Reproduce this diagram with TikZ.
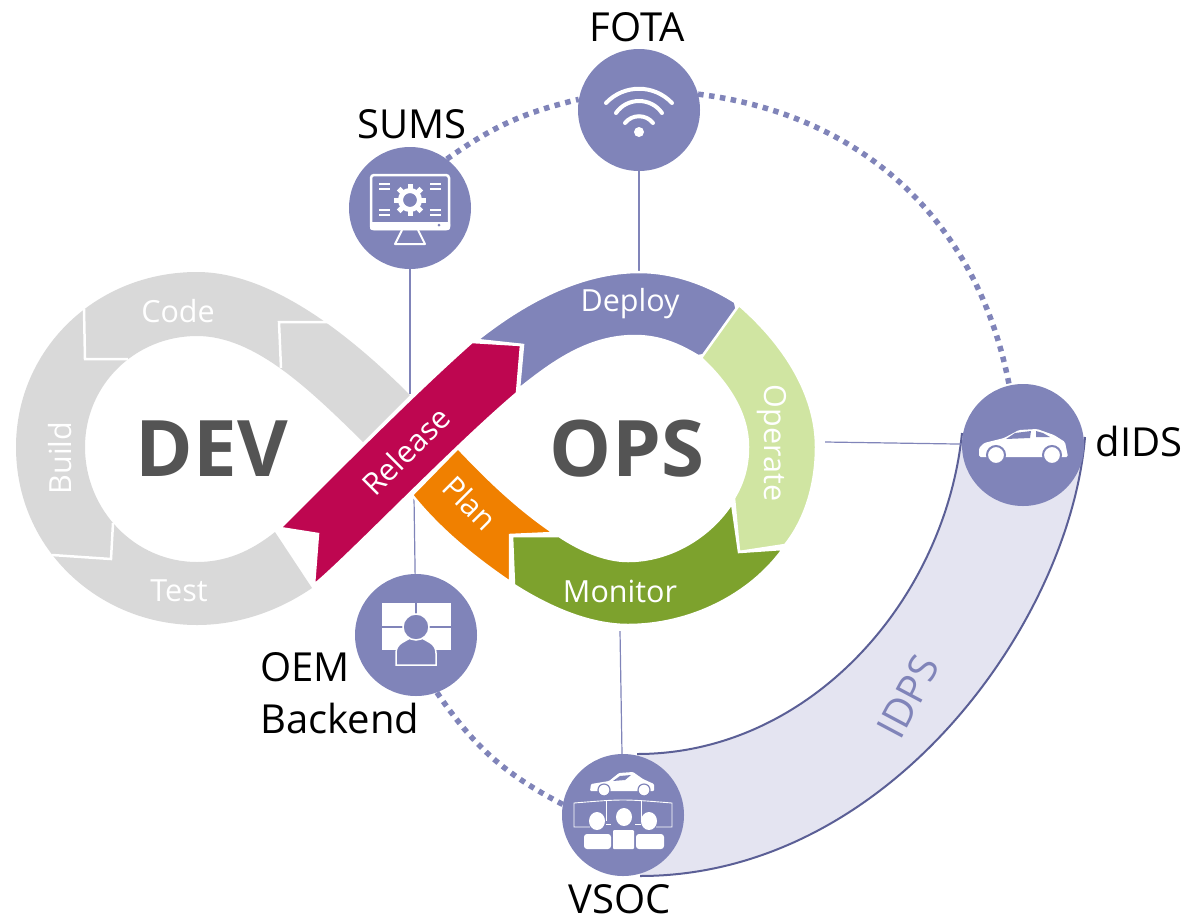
\documentclass[tikz,border=0pt]{standalone}
\usepackage{xcolor}
\usepackage{fontspec}
\setmainfont{Open Sans}
\usepackage{tikz}
\usetikzlibrary{arrows.meta}
\usetikzlibrary{positioning, shapes.geometric, backgrounds}
\definecolor{hub purple}{HTML}{8084B9}
\definecolor{band fill}{HTML}{E4E4F1}
\definecolor{band line}{HTML}{5B5F96}
\definecolor{dev gray}{HTML}{D9D9D9}
\definecolor{word gray}{HTML}{545454}
\definecolor{release red}{HTML}{BE0650}
\definecolor{plan orange}{HTML}{F08000}
\definecolor{operate green}{HTML}{D0E5A2}
\definecolor{monitor green}{HTML}{7DA22D}
\tikzset{
hub/.style = { circle, fill = hub purple, minimum size = 122pt, inner sep = 0pt },
hub label/.style = { black, font = \fontsize{40}{52}\selectfont, inner sep = 0pt },
stage label/.style = { white, font = \fontsize{30.5}{34}\selectfont, inner sep = 0pt },
big word/.style = { word gray, font = \fontsize{78}{80}\selectfont\bfseries, inner sep = 0pt },
stage/.style = { draw = white, line width = 2.5pt, line join = miter },
gap line/.style = { draw = white, line width = 2.5pt },
hub link/.style = { draw = hub purple, line width = 1.2pt },
hub dots/.style = { draw = hub purple, line width = 5.5pt, dash pattern = on 5.5pt off 5.5pt },
band edge/.style = { draw = band line, line width = 2pt },
}
\tikzset{
pics/wifi icon/.style = {
        code = {
        \path[draw = white, line width = 4pt, line cap = round] (-33, -7) .. controls (-15, -26) and (15, -26) .. (33, -7);
        \path[draw = white, line width = 4pt, line cap = round] (-23, 3) .. controls (-12, -13) and (12, -13) .. (23, 3);
        \path[draw = white, line width = 4pt, line cap = round] (-14, 13) .. controls (-7, 4) and (7, 4) .. (14, 13);
        \path[fill = white] (0, 22) circle (5);
        }
    },
pics/screen icon/.style = {
        code = {
        \path[draw = white, line width = 2.5pt, rounded corners = 3pt] (-39, -33) rectangle (39, 21);
        \path[fill = white, rounded corners = 2pt] (-40, 14) rectangle (40, 22);
        \path[fill = hub purple] (29, 17) circle (1.5);
        \path[draw = white, line width = 2pt, line join = round] (-8, 22) -- (-15, 36) -- (15, 36) -- (8, 22);
        \foreach \a in {0, 45, ..., 315} {
            \path[draw = white, line width = 5pt] ([shift = {(0, -8)}] \a:9) -- ([shift = {(0, -8)}] \a:16);
        }
        \path[draw = white, line width = 5pt] (0, -8) circle (9.5);
        \foreach \y in {-24, -19, 2, 7} {
            \path[draw = white, line width = 1.5pt] (-31, \y) -- (-20, \y);
            \path[draw = white, line width = 1.5pt] (20, \y) -- (31, \y);
        }
        }
    },
pics/panel icon/.style = {
        code = {
        \path[fill = white] (-34, -32) rectangle (35, 15);
        \path[draw = hub purple, line width = 1.5pt] (0, -32) -- (0, -20);
        \path[draw = hub purple, line width = 1.5pt] (-34, -8) -- (35, -8);
        \path[fill = hub purple, draw = white, line width = 1.5pt] (-20, 30) -- (-20, 18) .. controls (-20, 8) and (-10, 6) .. (-6, 3) -- (6, 3) .. controls (10, 6) and (20, 8) .. (20, 18) -- (20, 30) -- cycle;
        \path[fill = hub purple, draw = white, line width = 1.5pt] (0, -8) circle (13);
        }
    },
pics/car icon/.style = {
        code = {
        \path[fill = white, rounded corners = 1.5pt] (-44, 12) -- (-44, 3) -- (-39, -2) -- (-19, -7) -- (-4, -15) -- (14, -16) -- (31, -10) -- (42, -3) -- (45, 12) -- cycle;
        \path[fill = hub purple] (-17, -6) -- (-8, -12) -- (8, -14) -- (7, -7) -- cycle;
        \path[fill = hub purple] (13, -14) -- (20, -12) -- (27, -8) -- (13, -8) -- cycle;
        \foreach \x in {-27, 29} {
            \path[fill = white, draw = hub purple, line width = 2pt] (\x, 10) circle (9);
        }
        }
    },
pics/soc icon/.style = {
        code = {
        % small car on top, wall of screens and three people below
        \path[fill = white, rounded corners = 1pt] (-33, -24) -- (-32, -31) -- (-14, -34) -- (-4, -42) -- (10, -43) -- (20, -36) -- (31, -31) -- (31, -24) -- cycle;
        \path[fill = hub purple] (-10, -34) -- (-3, -39) -- (8, -40) -- (2, -35) -- cycle;
        \foreach \x in {-19, 21} {
            \path[fill = white, draw = hub purple, line width = 1.2pt] (\x, -25) circle (6);
        }
        \path[draw = white, line width = 0.9pt] (-33, 12) -- (-49, 12) -- (-49, -12) .. controls (0, -16) .. (49, -12) -- (49, 12) -- (33, 12);
        \path[draw = white, line width = 0.9pt] (-17, -14) -- (-17, 6);
        \path[draw = white, line width = 0.9pt] (18, -14) -- (18, 6);
        \path[draw = white, line width = 0.9pt] (-17, 9) -- (-12, 9);
        \path[draw = white, line width = 0.9pt] (12, 9) -- (18, 9);
        \path[fill = white] (-26, 6) ellipse (8 and 9);
        \path[fill = white] (1, 2) ellipse (8 and 9);
        \path[fill = white] (26, 6) ellipse (8 and 9);
        \path[fill = white, rounded corners = 3pt] (-39, 34) rectangle (-12, 19);
        \path[fill = white, rounded corners = 1pt] (-10, 34) rectangle (11, 15);
        \path[fill = white, rounded corners = 3pt] (13, 34) rectangle (41, 19);
        }
    }
}
\begin{document}
\begin{tikzpicture}[x = 1pt, y = -1pt]
      \useasboundingbox (0, 0) rectangle (1199, 919);
      % left loop
      \path[fill = dev gray] (410, 395) .. controls (340, 325) and (265, 272) .. (197, 272) .. controls (95, 272) and (16, 350) .. (16, 447) .. controls (16, 550) and (100, 625) .. (197, 625) .. controls (240, 625) and (280, 610) .. (312, 588) -- (275, 532) .. controls (250, 552) and (225, 562) .. (197, 562) .. controls (135, 562) and (85, 510) .. (85, 447) .. controls (85, 385) and (135, 336) .. (197, 336) .. controls (255, 336) and (310, 390) .. (363, 442) -- cycle;
      \path[gap line] (84, 309) -- (85, 359) -- (128, 359);
      \path[gap line] (330, 322) -- (279, 322) -- (281, 368);
      \path[gap line] (52, 555) -- (111, 559) -- (113, 523);
      % right loop
      \path[stage, fill = plan orange] (412, 495) .. controls (440, 530) and (475, 558) .. (510, 582) -- (510, 535) -- (554, 533) .. controls (520, 510) and (490, 482) .. (458, 448) -- cycle;
      \path[stage, fill = hub purple] (477, 340) .. controls (530, 298) and (585, 272) .. (639, 272) .. controls (675, 272) and (708, 285) .. (735, 302) -- (746, 349) -- (698, 356) .. controls (680, 345) and (660, 336) .. (635, 336) .. controls (590, 336) and (555, 360) .. (519, 389) -- (523, 345) -- cycle;
      \path[stage, fill = operate green] (739, 305) .. controls (785, 345) and (816, 395) .. (816, 447) .. controls (816, 485) and (805, 520) .. (785, 545) -- (739, 552) -- (734, 498) .. controls (743, 483) and (748, 467) .. (748, 447) .. controls (748, 415) and (730, 385) .. (701, 358) -- cycle;
      \path[stage, fill = monitor green] (783, 549) .. controls (750, 595) and (690, 625) .. (628, 625) .. controls (590, 625) and (550, 608) .. (514, 585) -- (512, 536) -- (559, 536) .. controls (580, 550) and (605, 561) .. (628, 561) .. controls (670, 561) and (710, 537) .. (732, 503) -- (739, 552) -- cycle;
      \path[stage, fill = release red] (472, 342) .. controls (420, 388) and (350, 458) .. (280, 528) -- (318, 534) -- (314, 585) .. controls (350, 555) and (450, 450) .. (517, 393) -- (521, 345) -- cycle;
      % hubs
      \node[hub] (fota) at (639, 110) {};
      \node[hub] (sums) at (410, 208) {};
      \node[hub] (oem) at (416, 635) {};
      \node[hub] (vsoc) at (623, 815) {};
      \node[hub] (dids) at (1023, 445) {};
      \draw (fota) pic{wifi icon};
      \draw (sums) pic{screen icon};
      \draw (oem) pic{panel icon};
      \draw (vsoc) pic{soc icon};
      \draw (dids) pic{car icon};
      \coordinate (deploy top) at (639, 271);
      \coordinate (release top) at (410, 394);
      \coordinate (plan tip) at (414, 497);
      \coordinate (monitor bottom) at (620, 631);
      \coordinate (operate right) at (825, 442);
      \coordinate (band inner dids) at (962, 433);
      \coordinate (band outer dids) at (1085, 437);
      \coordinate (band inner vsoc) at (637, 754);
      \coordinate (band outer vsoc) at (640, 876);
      \begin{scope}[on background layer]
      \path[fill = band fill] (band outer dids) .. controls (1070, 620) and (890, 876) .. (band outer vsoc) -- (band inner vsoc) .. controls (810, 754) and (945, 600) .. (band inner dids) -- cycle;
      \path[band edge] (band outer dids) .. controls (1070, 620) and (890, 876) .. (band outer vsoc);
      \path[band edge] (band inner dids) .. controls (945, 600) and (810, 754) .. (band inner vsoc);
      \path[hub dots] (sums.53) to[bend left = 11] (fota.170);
      \path[hub dots] (fota.15) to[bend left = 36] (dids.103);
      \path[hub dots] (oem.-70) to[bend right = 14] (vsoc.170);
      \path[hub link] (fota) -- (deploy top);
      \path[hub link] (sums) -- (release top);
      \path[hub link] (oem) -- (plan tip);
      \path[hub link] (vsoc) -- (monitor bottom);
      \path[hub link] (dids) -- (operate right);
      \end{scope}
      % labels
      \node[big word] (dev) at (212, 449) {DEV};
      \node[big word] (ops) at (627, 449) {OPS};
      \node[stage label] (code) at (178, 311) {Code};
      \node[stage label, rotate = 90] (build) at (60, 458) {Build};
      \node[stage label] (test) at (179, 591) {Test};
      \node[stage label, rotate = 45] (release) at (406, 451) {Release};
      \node[stage label, rotate = -45] (plan) at (470, 503) {Plan};
      \node[stage label] (monitor) at (620, 591) {Monitor};
      \node[stage label, rotate = -90] (operate) at (772, 443) {Operate};
      \node[stage label] (deploy) at (630, 304) {Deploy};
      \node[hub label] (fota label) at (637, 27) {FOTA};
      \node[hub label] (sums label) at (412, 124) {SUMS};
      \node[hub label] (dids label) at (1139, 441) {dIDS};
      \node[hub label] (vsoc label) at (620, 899) {VSOC};
      \node[hub label, align = left] (oem label) at (340, 693) {OEM\\Backend};
      \node[hub label, hub purple, rotate = 62] (idps label) at (908, 697) {IDPS};
\end{tikzpicture}
\end{document}
